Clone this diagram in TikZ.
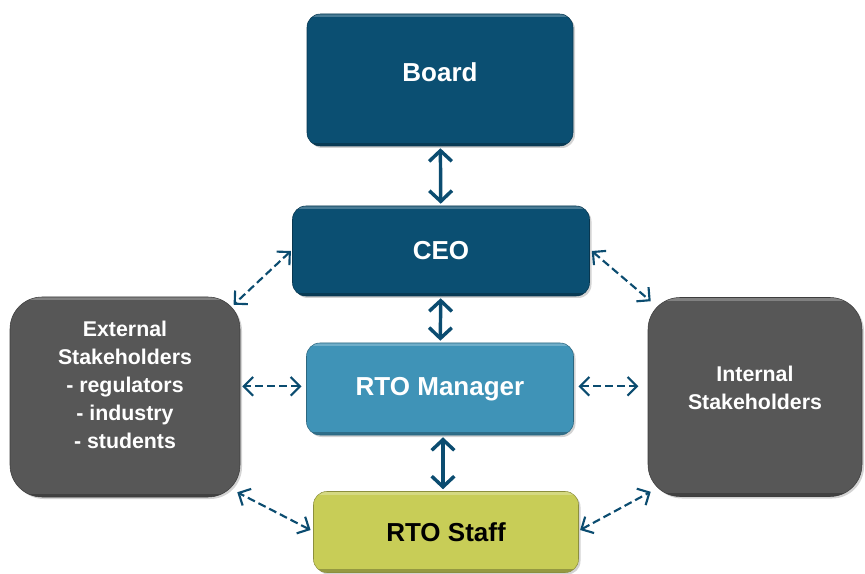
\documentclass[tikz,border=0pt]{standalone}
\usepackage{fontspec}
\setmainfont{Liberation Sans}
\usetikzlibrary{arrows.meta,shadows}
\definecolor{boardblue}{HTML}{0B4F72}
\definecolor{mgrblue}{HTML}{3F93B7}
\definecolor{staffgreen}{HTML}{C8CD57}
\definecolor{sidegray}{HTML}{575757}
\definecolor{linkblue}{HTML}{0B4C70}

\begin{document}
\begin{tikzpicture}[x=0.75pt,y=-0.75pt,
    box/.style={rounded corners=10pt, inner sep=0pt, text=white,
        font=\bfseries\fontsize{19.5}{23}\selectfont,
        drop shadow={opacity=0.35, shadow xshift=1.5pt, shadow yshift=-1.5pt},
        path picture={
            \draw[white, opacity=0.25, line width=5pt] (path picture bounding box.north west) -- (path picture bounding box.north east);
            \draw[black, opacity=0.25, line width=5pt] (path picture bounding box.south west) -- (path picture bounding box.south east);}},
    side/.style={box, rounded corners=24pt, fill=sidegray, draw=sidegray!70!black,
        font=\bfseries\fontsize{16}{21}\selectfont},
    link/.style={draw=linkblue, line width=2.6pt, shorten <=1.5pt, shorten >=1.5pt,
        {Straight Barb[length=8pt,width=17pt]}-{Straight Barb[length=8pt,width=17pt]}},
    dlink/.style={draw=linkblue, line width=1.6pt, dash pattern=on 6pt off 3pt,
        {Straight Barb[length=7pt,width=14pt]}-{Straight Barb[length=7pt,width=14pt]}}]
    \useasboundingbox (0,0) rectangle (865,574);
    % Boxes
    \node[box, fill=boardblue, draw=boardblue!70!black, minimum width=199.5pt, minimum height=99pt] (board) at (440,80) {\raisebox{12pt}{Board}};
    \node[box, fill=boardblue, draw=boardblue!70!black, minimum width=222.75pt, minimum height=67.5pt] (ceo) at (441,251) {CEO};
    \node[box, fill=mgrblue, draw=mgrblue!70!black, minimum width=200.25pt, minimum height=69pt] (manager) at (440,389) {RTO Manager};
    \node[box, fill=staffgreen, draw=staffgreen!70!black, text=black, minimum width=198.75pt, minimum height=60.75pt] (staff) at (446,532) {RTO Staff};
    \node[side, minimum width=172.5pt, minimum height=150pt] (ext) at (125,397) {\raisebox{7.5pt}[\height][\depth]{\begin{tabular}{@{}c@{}}External\\Stakeholders\\- regulators\\- industry\\- students\end{tabular}}};
    \node[side, minimum width=160.5pt, minimum height=149.25pt] (int) at (755,397) {\raisebox{5.25pt}[\height][\depth]{\begin{tabular}{@{}c@{}}Internal\\Stakeholders\end{tabular}}};
    % Solid links down the middle
    \draw[link] (board) -- (ceo);
    \draw[link] (ceo) -- (manager);
    \draw[link] ([xshift=2.25pt]manager.south) -- ([xshift=2.25pt]manager.south |- staff.north);
    % Dashed links to stakeholders
    \draw[dlink] ([xshift=-1pt]ceo.west) -- ([xshift=-5pt,yshift=-6pt]ext.north east);
    \draw[dlink] ([xshift=1.5pt]ceo.east) -- ([xshift=2.25pt,yshift=-3pt]int.north west);
    \draw[dlink, shorten <=3.5pt, shorten >=1.5pt] ([yshift=2pt]manager.west) -- ([yshift=2pt]manager.west -| ext.east);
    \draw[dlink, shorten <=3.5pt, shorten >=7pt] ([yshift=2pt]manager.east) -- ([yshift=2pt]manager.east -| int.west);
    \draw[dlink] ([xshift=-2pt,yshift=1.5pt]staff.west) -- ([xshift=-2.25pt,yshift=3.75pt]ext.south east);
    \draw[dlink] ([xshift=1pt,yshift=1.5pt]staff.east) -- ([xshift=2.25pt,yshift=3.75pt]int.south west);
\end{tikzpicture}
\end{document}
